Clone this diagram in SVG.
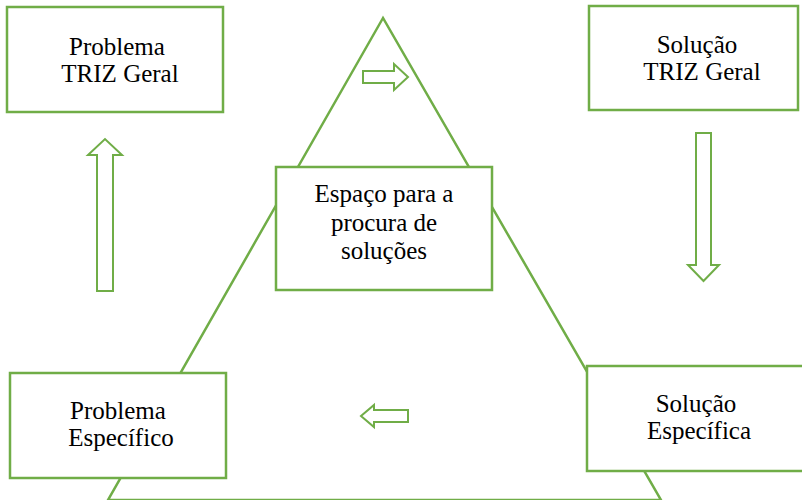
<svg xmlns="http://www.w3.org/2000/svg" width="802" height="500" viewBox="0 0 802 500">
<style>
.box{fill:#ffffff;stroke:#70AD47;stroke-width:2.5}
.tri{fill:none;stroke:#70AD47;stroke-width:2.5}
.arr{fill:#ffffff;stroke:#70AD47;stroke-width:2;stroke-linejoin:miter}
.t{font-family:"Liberation Serif","Times New Roman",serif;font-size:25px;fill:#000000;text-anchor:middle}
</style>
<rect width="802" height="500" fill="#ffffff"/>
<g id="triangle">
<polygon class="tri" points="383,18 108,500 661,500"/>
</g>
<g id="connectors">
<polygon class="arr" points="363,71 394,71 394,64 408,77 394,90 394,83 363,83"/>
<polygon class="arr" points="97,291 97,155 88,155 105,139 122,155 113,155 113,291"/>
<polygon class="arr" points="696,133 711,133 711,265 719,265 703.5,281 688,265 696,265"/>
<polygon class="arr" points="408,410 374,410 374,405 361,416 374,427 374,422 408,422"/>
</g>
<g id="problema-triz-geral">
<rect class="box" x="7" y="7" width="216" height="105"/>
<text class="t" x="117" y="55">Problema</text>
<text class="t" x="120" y="82">TRIZ Geral</text>
</g>
<g id="solucao-triz-geral">
<rect class="box" x="589" y="6" width="209" height="104"/>
<text class="t" x="697" y="53">Solução</text>
<text class="t" x="702" y="80">TRIZ Geral</text>
</g>
<g id="espaco">
<rect class="box" x="276" y="167" width="216" height="123"/>
<text class="t" x="384" y="202">Espaço para a</text>
<text class="t" x="384" y="231">procura de</text>
<text class="t" x="384" y="259">soluções</text>
</g>
<g id="problema-especifico">
<rect class="box" x="10" y="373" width="216" height="105"/>
<text class="t" x="118" y="419">Problema</text>
<text class="t" x="121" y="446">Específico</text>
</g>
<g id="solucao-especifica">
<rect class="box" x="587" y="366" width="220" height="105"/>
<text class="t" x="696" y="412">Solução</text>
<text class="t" x="699" y="439">Específica</text>
</g>
</svg>
